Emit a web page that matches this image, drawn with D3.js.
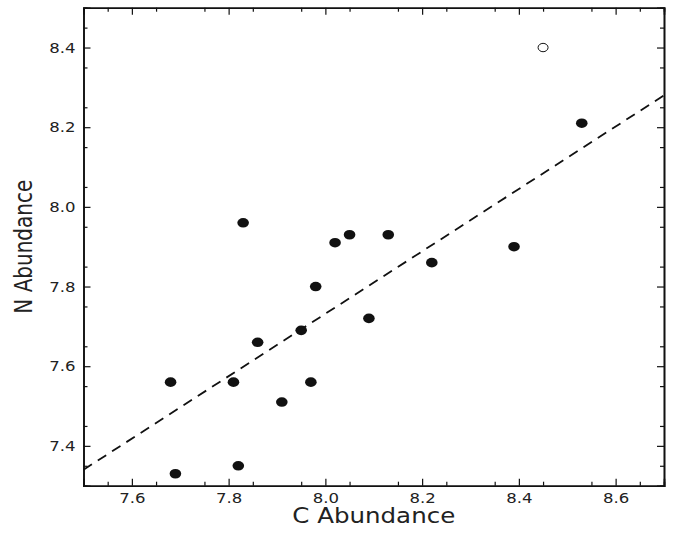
<!DOCTYPE html>
<html>
<head>
<meta charset="utf-8">
<script src="https://cdn.jsdelivr.net/npm/d3@7"></script>
<style>
	body { margin: 0; background: #fff; }
	svg text { font-family: "DejaVu Sans", sans-serif; }
</style>
</head>
<body>
<svg id="chart" width="673" height="533"></svg>
<script>
// measured values
const cAbund = [7.69, 7.68, 7.81, 7.82, 7.83, 7.86, 7.91, 7.95, 7.97, 7.98, 8.02, 8.05, 8.09, 8.13, 8.22, 8.39, 8.53]
const nAbund = [7.33, 7.56, 7.56, 7.35, 7.96, 7.66, 7.51, 7.69, 7.56, 7.80, 7.91, 7.93, 7.72, 7.93, 7.86, 7.90, 8.21]
const openC = [8.45]
const openN = [8.40]
const fitC = [7.5, 8.7]
const fitN = [7.34, 8.28]

const xMajor = [7.6, 7.8, 8.0, 8.2, 8.4, 8.6]
const yMajor = [7.4, 7.6, 7.8, 8.0, 8.2, 8.4]
const xMinor = d3.range(7.55, 8.7, 0.1)
const yMinor = d3.range(7.35, 8.5, 0.1)

const svg = d3.select("#chart")
const pLeft = 83.5, pRight = 664, pTop = 7.7, pBottom = 485.7
const stretch = 1.18 // picture is a bit wider than tall

const x = d3.scaleLinear().domain([7.5, 8.7]).range([pLeft, pRight])
const y = d3.scaleLinear().domain([7.3, 8.5]).range([pBottom, pTop])

function widen(sel, k) {
	sel.each(function() {
		let w = this.getComputedTextLength()
		d3.select(this).attr("textLength", w * k).attr("lengthAdjust", "spacingAndGlyphs")
	})
}

function styleAxis(g) {
	g.select(".domain").attr("stroke", "#111").attr("stroke-width", 1.6)
	g.selectAll(".tick line").attr("stroke", "#111").attr("stroke-width", 1.2)
	g.selectAll(".tick text").attr("fill", "#222").style("font-size", "14px")
}

// bottom
svg.append("g").attr("transform", `translate(0,${pBottom})`)
	.call(d3.axisBottom(x).tickValues(xMinor).tickSize(-4).tickFormat(""))
	.call(styleAxis)
const xAx = svg.append("g").attr("transform", `translate(0,${pBottom})`)
	.call(d3.axisBottom(x).tickValues(xMajor).tickSize(-7).tickPadding(7.5).tickFormat(d3.format(".1f")))
	.call(styleAxis)
widen(xAx.selectAll(".tick text"), stretch)

// top
svg.append("g").attr("transform", `translate(0,${pTop})`)
	.call(d3.axisTop(x).tickValues(xMinor).tickSize(-4).tickFormat(""))
	.call(styleAxis)
svg.append("g").attr("transform", `translate(0,${pTop})`)
	.call(d3.axisTop(x).tickValues(xMajor).tickSize(-7).tickFormat(""))
	.call(styleAxis)

// left
svg.append("g").attr("transform", `translate(${pLeft},0)`)
	.call(d3.axisLeft(y).tickValues(yMinor).tickSize(-4).tickFormat(""))
	.call(styleAxis)
const yAx = svg.append("g").attr("transform", `translate(${pLeft},0)`)
	.call(d3.axisLeft(y).tickValues(yMajor).tickSize(-7).tickPadding(8).tickFormat(d3.format(".1f")))
	.call(styleAxis)
widen(yAx.selectAll(".tick text"), stretch)

// right
svg.append("g").attr("transform", `translate(${pRight},0)`)
	.call(d3.axisRight(y).tickValues(yMinor).tickSize(-4).tickFormat(""))
	.call(styleAxis)
svg.append("g").attr("transform", `translate(${pRight},0)`)
	.call(d3.axisRight(y).tickValues(yMajor).tickSize(-7).tickFormat(""))
	.call(styleAxis)

// fit line
const line = d3.line().x(d => x(d[0])).y(d => y(d[1]))
svg.append("path")
	.datum(d3.zip(fitC, fitN))
	.attr("d", line)
	.attr("fill", "none")
	.attr("stroke", "#111")
	.attr("stroke-width", 1.8)
	.attr("stroke-dasharray", "10,7")

// points
svg.append("g").selectAll("ellipse")
	.data(d3.zip(cAbund, nAbund))
	.join("ellipse")
		.attr("cx", d => x(d[0]))
		.attr("cy", d => y(d[1]))
		.attr("rx", 5.8)
		.attr("ry", 4.8)
		.attr("fill", "#111")

svg.append("g").selectAll("ellipse")
	.data(d3.zip(openC, openN))
	.join("ellipse")
		.attr("cx", d => x(d[0]))
		.attr("cy", d => y(d[1]))
		.attr("rx", 5)
		.attr("ry", 4.2)
		.attr("fill", "#fff")
		.attr("stroke", "#111")
		.attr("stroke-width", 1)

// titles
svg.append("text")
	.attr("x", (pLeft + pRight) / 2)
	.attr("y", 523)
	.attr("text-anchor", "middle")
	.attr("fill", "#222")
	.style("font-size", "21px")
	.text("C Abundance")
	.attr("textLength", 163).attr("lengthAdjust", "spacingAndGlyphs")

svg.append("text")
	.attr("transform", `translate(32,${(pTop + pBottom) / 2}) rotate(-90) scale(1,1.2)`)
	.attr("text-anchor", "middle")
	.attr("fill", "#222")
	.style("font-size", "20px")
	.text("N Abundance")
</script>
</body>
</html>
